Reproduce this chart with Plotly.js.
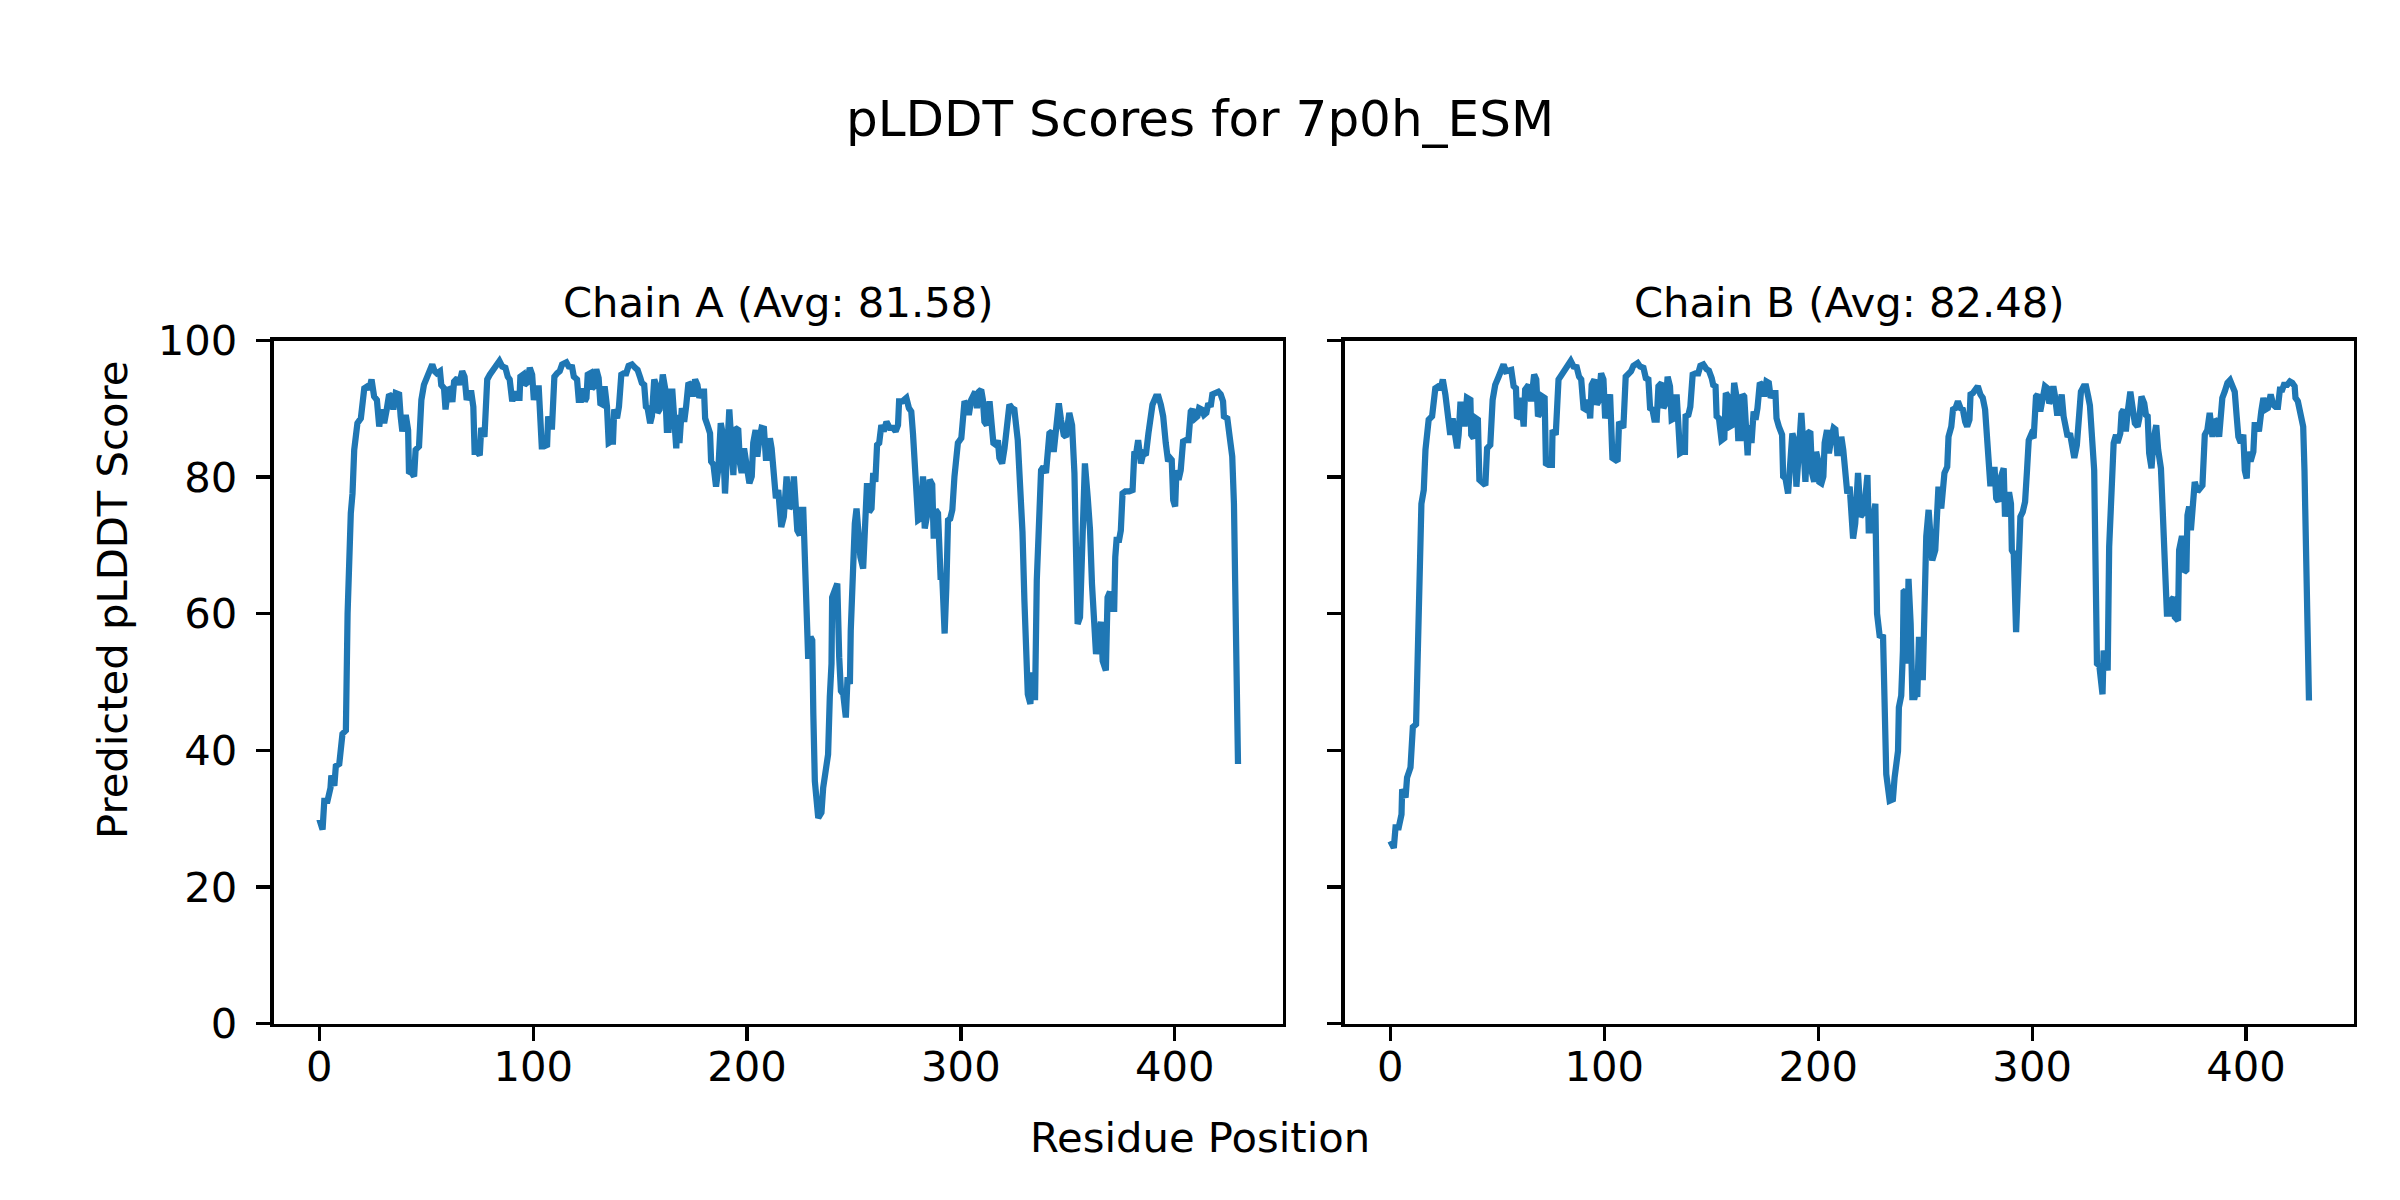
<!DOCTYPE html>
<html>
<head>
<meta charset="utf-8">
<script src="https://cdn.plot.ly/plotly-3.0.1.min.js"></script>
<style>html,body{margin:0;padding:0;background:#fff}#chart{width:2400px;height:1200px}</style>
</head>
<body>
<div id="chart"></div>
<script>
// ---------- DATA ----------
const chartTitle = "pLDDT Scores for 7p0h_ESM";
const chainNames = ["Chain A", "Chain B"];
const chainAvgs = [81.58, 82.48];
const xTicks = [0, 100, 200, 300, 400];
const yTicks = [0, 20, 40, 60, 80, 100];

const residueA = [0,1.5,2.3,3.8,5.2,5.6,7,7.7,9.3,10.8,12.4,13.2,14.7,15.5,16.3,17.8,19.4,21,22.5,23.3,24.4,25.6,26.9,28,29,30.3,31.5,32.6,33.7,34.6,35.7,37.3,38,38.8,40.4,41.5,41.9,43.2,44.3,45,46.6,47.7,48.9,50.5,52.8,53.9,54.9,56.4,57,58.3,59,60.1,61,62.2,63,64.5,65.3,66.8,67.9,68.9,70,71.1,72,72.6,73.8,75,75.7,77.2,78.5,79.7,80.8,82.4,84.2,85.5,87,88.1,89,90.2,91.2,92.5,93.6,94,95.3,95.9,97.1,98.4,99.5,100.3,101.5,102.6,104,105,106.5,107,108,108.8,109.9,111.2,112.4,113.5,115.5,116.6,118.2,119,120.5,121.3,122.4,123.3,124.1,124.9,125.5,126.7,127.5,128.6,129.5,130.6,131.4,132.6,133.4,134.5,135.3,136.4,137.3,137.9,139.2,140.1,141.2,142.3,143.5,144.6,146.2,147.7,148.8,150.1,150.8,151.9,152.7,153.5,154.7,155.5,156.6,157.5,158.1,159.1,159.7,160.6,161.7,162.5,163.3,164.1,165.1,165.9,166.9,167.5,168.4,169.5,170.6,171.5,172.6,173.7,174.6,175.7,176.8,177.7,178.8,179.9,180.4,181.5,182.7,183.2,184.3,185.5,186.6,187.7,188.6,189.7,190.5,191.7,192.8,193.6,194.4,195.9,196.7,197.5,198.6,199.5,200.1,201.1,202.2,202.9,204,204.8,205.7,206.8,207.9,208.8,209.9,210.7,211.5,212.3,213.5,214.6,215.1,216,217.2,218.5,219.8,220.9,221.9,222.9,223.5,224.7,225.5,226.3,227.1,227.8,228.6,229.7,230.5,231,231.7,233.3,234.8,235.6,236.9,237.9,238.7,239.5,239.8,241.1,242.2,243.1,243.9,245,246.2,247,248.1,248.5,249.6,250.4,251.2,252,253,254.3,255.1,256.1,257.1,258.2,259,260,260.8,261.8,262.8,263.9,265.2,266.7,268.3,269.5,270.6,271.1,272.6,273.3,274.5,275.7,276.8,277.6,278.4,279.2,280,281,282.3,283.1,284.1,285.4,286.6,287.3,288.2,289.3,290.1,290.5,291.3,292.4,293.2,294,295,296,297,297.8,298.6,300.2,300.9,301.7,302.8,303.7,304.8,305.6,306.7,307.5,308.4,309.5,310.3,311,312.1,313.4,314.2,315.2,316.5,317.3,318,319.3,320.4,321.5,322.7,323.9,325,326.6,327.7,328.8,329.7,330.5,331.3,332.5,333.3,333.9,334.7,335.5,336.4,337.5,338.6,339.8,341.4,342.6,343.4,344.5,345.8,346.8,348.1,349.2,350.7,352,353.1,353.8,354.6,355.7,356.9,358,359.3,360.4,361.3,362.4,363.2,364.4,365.5,366.3,367.8,368.6,369.7,370.6,371.7,372.2,372.8,374,374.8,375.6,376.9,378.7,380.3,381.1,382.1,382.9,384.2,385.3,386.5,387.7,388.8,389.6,391.2,392.4,393.5,394.6,395.8,396.9,397.8,398.6,399.3,400.2,400.8,401.8,402.8,403.9,405.2,406.4,407.5,408.3,409.5,410.6,411.4,412.6,413.7,414.8,415.7,416.8,417.6,419.2,420.4,421.5,422.6,423,424.6,425.7,426.9,427.7,428.5,429.3,429.6];
const plddtA = [29.9,28.4,32.6,32.6,34.5,36.3,34.8,37.7,38,42.4,42.9,60,74.7,77.6,84,87.9,88.6,93,93.3,92.8,94.3,91.8,91.3,87.4,89.9,87.9,89.9,92.1,91.8,89.9,92.3,92.1,88.9,86.7,89.1,86.9,80.8,80.6,80.1,84,84.5,91.3,93.5,94.7,96.5,95.5,95.2,95.5,93.5,93,89.9,92.8,92.9,91,94,94.5,93.5,95.5,94.7,91.3,92.3,92.3,90.3,83.7,83.7,83.2,87.2,85.9,94.3,95,95.5,96.5,97,96.2,96,94.7,94.3,91.1,92.5,91.6,91.6,94.7,95,93.5,93.8,96,95,91.3,93,93,84.5,84.5,84.7,88.9,87.4,87.4,94.7,95.2,95.5,96.5,96.8,96.2,96.1,94.7,94.3,91.3,91.3,93,91.1,91.6,95,95.2,93,93.3,95.8,94.5,90.8,90.6,93.3,90.3,85,85.2,85.2,89.9,88.6,90.3,95,95.2,95.2,96.3,96.5,96,95.7,94.5,93.8,93.5,90.3,90.1,87.9,88.9,94.3,93.5,89.4,89.9,92.1,95,93,86.9,86.9,92.5,92.5,88.4,84.2,89.1,85,90.1,88.1,90.3,93.8,93.5,91.8,94.3,93.5,91.6,92.5,92.5,88.6,87.6,86.4,82.3,81.8,78.6,81.3,87.9,86.4,77.6,83,89.9,84.5,80.3,87.2,86.9,82,80.6,84.2,82.5,80.3,79.1,80.1,85,86.9,83,85.4,87.2,87.1,82.8,82.8,85.7,84.2,80.3,76.9,78.1,75.4,72.7,74.2,80.1,75.4,75.9,80.1,75.7,72.2,71.5,75.2,75.2,67.3,57.1,53.4,56.6,56.1,45.3,35.5,30.1,30.9,34.5,37.5,39.4,47.8,52.7,62.4,63.4,64.4,53.6,48.7,48.2,44.8,50.7,49.7,57.5,70.3,73.2,75.4,71.3,68.3,66.6,74.2,79.1,74.9,75.4,80.6,79.3,84.7,85,87.6,86.7,88.1,87.2,87.2,86.7,87.6,91.1,91.1,91.3,91.6,90.1,89.6,86.4,82,78.6,73.7,73.9,80.1,72.5,74.2,79.6,78.9,71,75.2,74.7,70.3,65.4,65.4,57.1,63.9,73.7,73.9,75.2,80.1,83.7,85,85.7,89.1,91.1,90.6,89.1,91.3,91.8,92.5,90.1,92.5,92.8,91.3,88.1,87.6,91.1,88.6,85,84.7,85.4,82.8,82,84.2,87.4,90.6,90.1,89.9,85.4,80.1,72,62,54,48.2,46.8,51.4,47.8,47.8,64.9,72.2,81,81.5,80.6,86.4,86.7,83.7,87.4,90.8,88.4,86.2,85.9,89.4,87.6,80.6,69.8,58.5,59.5,70.3,82,77.1,72.2,64.4,57.5,54.1,57.1,58.8,53.1,51.7,62.4,63.2,60.7,60.7,68.3,70.8,70.8,72.2,77.6,77.9,77.9,78.1,83.5,83.7,85.4,82,83.5,83.2,86.4,89.4,90.6,91.8,91.8,90.6,88.9,85,82.3,82.8,82.5,76.6,75.7,81,79.6,81,85.2,85.4,85.4,89.6,89.9,88.6,88.9,90.1,89.9,89.1,89.4,90.8,90.3,92.1,92.3,92.5,92.1,91.1,88.9,88.6,85.9,83,76.1,62.4,47.8,38];

const residueB = [0,1.6,2.4,3.9,5.2,5.5,7.1,7.8,9.4,10.5,12,13.3,14.5,15.6,16.4,17.9,19.5,21,22.5,23.4,24.5,25.7,27.6,28,29.1,30.4,31.2,31.9,32.7,33.8,34.7,35.8,37.4,37.8,38.9,40,40.9,41.6,42.8,44.4,45.2,46.7,47.8,49,50.6,52.9,54,55.3,56.5,57.6,58.7,59.2,60.2,61.2,62.3,63,64.6,65.8,67.2,68.2,69,70,71.1,72.1,72.7,73.9,75.5,75.8,77.3,78.6,80.1,81.2,82.5,84.3,85.6,87.1,88.2,89.2,90.3,91.3,92.6,93.4,94.1,95.4,96.5,97.3,98.5,99.6,100.4,101.6,102.7,103.8,105,106.2,106.9,108.9,110,111.3,112.5,113.6,115.6,116.7,118.3,119.4,120.6,121.4,122.5,123.4,124.5,125.3,126.8,127.6,128.7,129.6,130.7,131.5,132.7,133.8,134.6,135.4,136.5,137.7,138,139.3,140.2,141.3,142.7,143.9,144.9,146.3,147.8,148.9,150.2,150.9,152,152.5,153.6,154.8,156.1,156.8,157.9,158.7,159.8,160.7,161.8,162.6,163.7,164.6,165.4,166.2,167,167.7,168.8,169.8,170.7,171.6,172.7,173.8,174.7,175.8,176.9,177.8,178.9,180,180.5,181.6,183.1,183.6,184.7,185.9,186.7,187.9,189,189.8,190.9,192.1,193.2,194,195,196.3,197.1,198.1,199,199.9,200.5,201.5,202.4,203,204.1,205,206.1,207.2,208,208.9,210,210.8,211.7,212.7,213.6,214.7,215.2,216.3,217.3,218.6,219.8,221.4,223,223.6,224.8,226.1,226.7,227.5,228.7,230.3,231.1,231.8,233.4,234.9,235.7,237.3,237.7,238.8,239.6,239.9,240.8,241.6,242.2,243.2,244,245.1,245.8,246.3,247.1,247.8,248.9,249.7,250.5,251.6,252.5,253.3,254.7,255.6,256.2,257.5,258.3,259,260.3,260.9,262.2,263,264.2,265.3,266.5,267.6,268.7,269.6,270.7,271.2,272.3,273.4,274.6,275.8,276.9,278,279,279.6,280.4,281.6,282.4,283.2,284.2,285.2,286.7,287.3,288.3,289.4,290.1,290.5,291.4,292.5,293.3,294.5,295.6,296.7,297.6,298.4,299.5,300.7,301.8,302.6,303.8,304.9,306,307.2,308,308.8,309.9,310.7,311.6,312.7,313.8,314.7,315.8,316.6,317.7,318.5,319.7,320.9,322,322.8,324.1,325.2,326.2,327,329,329.8,330.3,331.4,332.2,332.9,333.4,334.5,335.3,336,337.1,338.1,339.2,339.9,341.2,341.8,342.7,343.8,344.6,345.9,346.9,348,349.3,350.1,351.1,352.4,353.2,354,354.7,355.8,356.7,358,358.9,360.2,360.9,362,363,364.1,365.1,366.1,366.7,368.2,368.7,369.8,370.6,371,372.1,372.6,373.4,374.2,374.9,376,377.3,378.5,379.6,380.7,381.9,383,384.3,385.4,386.6,387.4,388.2,388.9,390,391.3,392.5,393.6,394.7,395.6,396.4,397.5,398.7,399.4,400.3,400.9,402.1,403.4,404,405.2,406,407.1,408.1,409.1,410.2,411.5,412.7,413.8,414.9,415.8,416.9,417.7,419.2,420.5,421.6,422.7,423.1,424.2,425.5,426.7,427.3,428.3,429.4];
const plddtB = [26.7,25.7,28.7,28.7,30.6,34.3,33.1,36,37.5,43.4,43.8,62.4,76.1,78.1,84,88.4,88.9,93,93.3,92.8,94.3,92.1,88.4,86.2,88.6,86.4,84.2,86.2,90.6,90.6,87.4,91.6,91.3,86.2,85.7,88.6,88.4,79.6,79.3,78.8,84.2,84.7,91.3,93.5,94.7,96.5,95.5,95.5,95.7,93.3,93,88.6,88.9,91.6,87.4,92.8,93.5,91.1,95,94.3,88.9,89.4,91.8,91.6,82,81.8,81.8,86.9,86.2,94.3,95,95.5,96.5,97,96.2,96.1,94.7,94.3,90.1,89.9,91.3,88.6,93.5,94.3,90.6,91.1,95.2,94.3,88.6,91.1,92.1,82.8,82.5,82.3,88.1,87.2,94.7,95.2,95.5,96.3,96.7,96.2,96,94.5,94.3,90.1,89.9,88.4,88.4,93.3,93.8,90.1,90.8,94.7,93.3,88.4,88.6,92.1,88.4,83.5,83.7,83.7,88.9,89.1,90.3,95,95.2,95.2,96.3,96.5,95.8,95.6,94.5,93.5,93.3,88.9,88.6,85.4,85.7,92.3,91.8,87.4,87.6,93.8,91.8,85.7,85.7,92.1,91.8,87.9,83.2,87.6,85,89.6,88.4,90.1,93.8,93.5,91.8,94,93.8,91.6,92.3,92.3,88.6,87.4,86.2,80.1,79.8,77.6,82,86.4,85.2,78.6,83.5,89.4,84,79.3,86.4,86.7,80.6,79.3,83.7,82.5,79.3,79.1,80.1,85,86.9,83.5,85.7,87.2,87,83.5,83.5,85.9,84,81,77.6,78.6,75.2,71,73.2,80.6,74.2,74.9,80.3,72.2,72.2,76.1,76.1,60,56.8,56.6,45.3,36.5,32.6,32.8,36,39.9,46.3,48,54.6,63.2,63.4,52.7,65.1,58.5,47.8,47.8,48.7,47.8,56.6,50.7,50.7,67.3,71.3,75.2,69.3,67.8,69.3,75.7,78.6,75.4,78.1,80.6,81.5,85.9,87.4,89.9,90.1,91.1,90.1,89.9,88.1,87.4,88.4,92.1,92.3,93,93.3,92.1,91.6,89.9,85.4,82,79.1,79.1,81.5,76.9,76.4,79.8,81.3,74.2,77.4,77.4,76.1,69.3,68.8,57.3,64.4,74.2,74.9,76.4,81,85.4,86.2,85.7,91.8,92.1,89.6,91.1,93.3,93,90.8,91.3,93.3,91.8,89.4,89.4,92.1,88.9,86.7,85.9,86.4,84.2,82.8,84.7,88.9,92.5,93.3,93.3,91.8,90.5,81,68,52.7,52.4,50.7,48.2,54.6,51.9,51.7,69.8,80.6,85,86.2,85,86.4,89.4,89.9,86.7,89.4,92.5,90.3,87.9,87.4,88.6,91.8,90.8,89.1,88.9,83.5,81.3,85.4,87.6,84,81.3,76.1,67.3,60,60,62,62.4,59.5,59,69.3,71,71,66.1,66.4,74.4,75.7,72.2,74.9,79.3,77.9,78.4,78.8,86.2,86.9,89.4,85.9,88.4,88.1,85.9,88.6,91.6,92.5,93.8,94.2,93.5,92.5,88.9,85.9,85,86.2,81,79.8,83.7,82.3,83.7,87.6,87.6,86.7,89.6,91.6,89.9,90.1,92.1,90.6,90.3,90.3,92.8,92.8,93.5,93.5,94,93.8,93.3,91.6,91.1,88.6,87.4,81,67.3,47.3];

// ---------- CHART ----------
const W = 2400, H = 1200;
const FONT = "DejaVu Sans, Liberation Sans, sans-serif";
const BLUE = "#1f77b4";
// axes box in pixels: A [273.5,1282.6], B [1343.9,2354], y [340,1023.5]
const yDom = [(H - 1023.5) / H, (H - 340.5) / H];
const xDomA = [273.5 / W, 1282.6 / W];
const xDomB = [1344.5 / W, 2354 / W];

const traces = [
  {x: residueA, y: plddtA, xaxis: "x", yaxis: "y", type: "scatter", mode: "lines",
   line: {color: BLUE, width: 6.25}, hoverinfo: "skip"},
  {x: residueB, y: plddtB, xaxis: "x2", yaxis: "y2", type: "scatter", mode: "lines",
   line: {color: BLUE, width: 6.25}, hoverinfo: "skip"}
];

const xRange = [-21.45, 450.45];
function xAxis(dom, anchor) {
  return {domain: dom, anchor: anchor, range: xRange, tickvals: xTicks, ticktext: xTicks.map(String),
    showgrid: false, zeroline: false, showline: true, mirror: true, linecolor: "#000", linewidth: 3.3,
    ticks: "outside", ticklen: 14.6, tickwidth: 3.3, tickcolor: "#000", ticklabelstandoff: -10,
    tickfont: {family: FONT, size: 41.7, color: "#000"}, fixedrange: true};
}
function yAxis(anchor, labels) {
  return {domain: yDom, anchor: anchor, range: [0, 100], tickvals: yTicks, ticktext: yTicks.map(String),
    showticklabels: labels, showgrid: false, zeroline: false, showline: true, mirror: true,
    linecolor: "#000", linewidth: 3.3, ticks: "outside", ticklen: 14.6, tickwidth: 3.3, tickcolor: "#000",
    ticklabelstandoff: 10, tickfont: {family: FONT, size: 41.7, color: "#000"}, fixedrange: true};
}

const layout = {
  width: W, height: H, margin: {l: 0, r: 0, t: 0, b: 0, pad: 0},
  paper_bgcolor: "#fff", plot_bgcolor: "#fff", showlegend: false,
  font: {family: FONT, color: "#000"},
  title: {text: chartTitle, x: 0.5, xanchor: "center", xref: "container", y: (H - 118) / H, yref: "container",
          yanchor: "middle", font: {family: FONT, size: 50, color: "#000"}},
  xaxis: xAxis(xDomA, "y"),
  yaxis: yAxis("x", true),
  xaxis2: xAxis(xDomB, "y2"),
  yaxis2: yAxis("x2", false),
  annotations: [
    {text: chainNames[0] + " (Avg: " + chainAvgs[0].toFixed(2) + ")", xref: "paper", yref: "paper",
     x: (xDomA[0] + xDomA[1]) / 2, y: (H - 302) / H, xanchor: "center", yanchor: "middle", showarrow: false,
     font: {family: FONT, size: 41.7, color: "#000"}},
    {text: chainNames[1] + " (Avg: " + chainAvgs[1].toFixed(2) + ")", xref: "paper", yref: "paper",
     x: (xDomB[0] + xDomB[1]) / 2, y: (H - 302) / H, xanchor: "center", yanchor: "middle", showarrow: false,
     font: {family: FONT, size: 41.7, color: "#000"}},
    {text: "Predicted pLDDT Score", xref: "paper", yref: "paper", x: 112 / W, y: 0.5, textangle: -90,
     xanchor: "center", yanchor: "middle", showarrow: false, font: {family: FONT, size: 41.7, color: "#000"}},
    {text: "Residue Position", xref: "paper", yref: "paper", x: 0.5, y: (H - 1137) / H,
     xanchor: "center", yanchor: "middle", showarrow: false, font: {family: FONT, size: 41.7, color: "#000"}}
  ]
};

Plotly.newPlot("chart", traces, layout, {staticPlot: true, displayModeBar: false});
</script>
</body>
</html>
